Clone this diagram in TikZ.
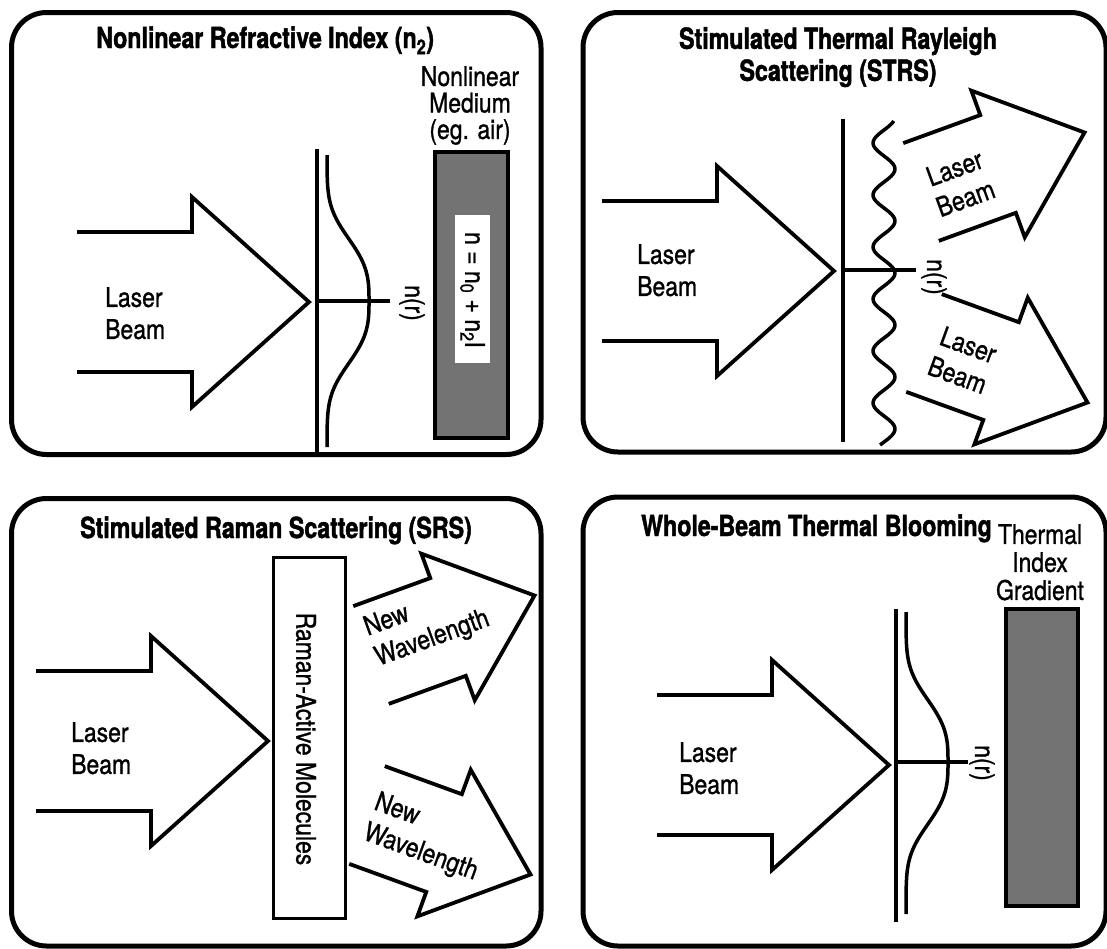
\documentclass[tikz,border=0pt]{standalone}
\usepackage{fontspec}
\setmainfont{texgyreheros-regular.otf}[FakeStretch=0.85, FakeBold=1.1]
\newfontfamily\headfont{texgyreheros-bold.otf}[FakeStretch=0.8, FakeBold=1.5]
\begin{document}
\begin{tikzpicture}[x=1pt, y=-1pt]
\tikzset{
  frame/.style={line width=5pt, rounded corners=35pt},
  beamline/.style={line width=3.8pt, line join=miter},
  axisline/.style={line width=3.5pt},
  profile/.style={line width=3.5pt, line join=round},
  medium/.style={line width=4.5pt, fill=black!55},
  ttl/.style={font=\fontsize{29}{32}\headfont, inner sep=0pt},
  lbl/.style={font=\fontsize{27}{32}\selectfont, inner sep=0pt},
  pics/inbeam/.style={code={
    \draw[beamline] (0,-70) -- (115,-70) -- (115,-105) -- (232,0) -- (115,105) -- (115,70) -- (0,70);}},
  pics/outbeam/.style={code={
    \draw[beamline] (0,-52) -- (82,-52) -- (82,-78) -- (174,0) -- (82,78) -- (82,52) -- (0,52);}},
}
\useasboundingbox (0,0) rectangle (1107,948);
\fill[white] (0,0) rectangle (1107,948);

% ---------- frames ----------
\draw[frame] (11.5,12.5) rectangle (541,454.5);
\draw[frame] (583,12.5) rectangle (1106,452);
\draw[frame] (11.5,498.5) rectangle (541,946);
\draw[frame] (583,497) rectangle (1106,946);

% ---------- Nonlinear refractive index ----------
\node[ttl, anchor=base west] (t1) at (96,48) {Nonlinear Refractive Index (n\textsubscript{2})};
\pic at (77,302) {inbeam};
\node[lbl, align=left, anchor=north west] (lb1) at (105,287) {Laser\\Beam};
\coordinate (v1t) at (317,149);
\coordinate (v1b) at (317,454);
\coordinate (h1a) at (317,301);
\coordinate (h1b) at (390,301);
\draw[axisline] (v1t) -- (v1b);
\draw[axisline] (h1a) -- (h1b);
\draw[profile] plot[smooth, domain=-146:146, samples=60]
  ({327+42*exp(-(abs(\x)/71.6)^3)}, {301+\x});
\node[lbl, rotate=-90] (nr1) at (412,303) {n(r)};
\node[lbl, align=center, anchor=north, font=\fontsize{27}{26.5}\selectfont] (m1) at (470,66) {Nonlinear\\Medium\\(eg. air)};
\draw[medium] (435,152) rectangle (508,438);
\fill[white] (455,215) rectangle (490,363);
\node[lbl, rotate=-90] (eq1) at (472.5,290) {n = n\textsubscript{0} + n\textsubscript{2}I};

% ---------- Stimulated thermal Rayleigh scattering ----------
\node[ttl, align=center, anchor=north] (t2) at (838,27) {Stimulated Thermal Rayleigh\\Scattering (STRS)};
\pic at (602,271) {inbeam};
\node[lbl, align=left, anchor=north west] (lb2) at (637,244) {Laser\\Beam};
\coordinate (v2t) at (843,119);
\coordinate (v2b) at (843,442);
\coordinate (h2a) at (843,270);
\coordinate (h2b) at (916,270);
\draw[axisline] (v2t) -- (v2b);
\draw[axisline] (h2a) -- (h2b);
\draw[profile] plot[smooth, domain=121:445, samples=130]
  ({884+11*cos(6.923077*(\x-169))}, \x);
\node[lbl, rotate=-90] (nr2) at (934,277) {n(r)};
\pic[rotate=20] at (921,192) {outbeam};
\pic[rotate=-20] at (924,343) {outbeam};
\node[lbl, align=center, rotate=20] (lb2a) at (960,183) {Laser\\Beam};
\node[lbl, align=center, rotate=-20] (lb2b) at (963,360) {Laser\\Beam};

% ---------- Stimulated Raman scattering ----------
\node[ttl, anchor=base west] (t3) at (80,538) {Stimulated Raman Scattering (SRS)};
\pic at (36,741) {inbeam};
\node[lbl, align=left, anchor=north west] (lb3) at (71,722) {Laser\\Beam};
\draw[line width=3pt, fill=white] (273.5,557.5) rectangle (345.5,918.5);
\node[lbl, rotate=-90] (ram) at (306,739) {Raman-Active Molecules};
\pic[rotate=20] at (371,655) {outbeam};
\pic[rotate=-20] at (367,815) {outbeam};
\node[lbl, align=left, rotate=20] (nw3a) at (427,624) {New\\Wavelength};
\node[lbl, align=left, rotate=-20] (nw3b) at (426,838) {New\\Wavelength};

% ---------- Whole-beam thermal blooming ----------
\node[ttl, anchor=base west] (t4) at (641,536) {Whole-Beam Thermal Blooming};
\node[lbl, align=center, anchor=north, font=\fontsize{27}{28}\selectfont] (g4) at (1040,524) {Thermal\\Index\\Gradient};
\pic at (657,765) {inbeam};
\node[lbl, align=left, anchor=north west] (lb4) at (679,742) {Laser\\Beam};
\coordinate (v4t) at (896,609);
\coordinate (v4b) at (896,922);
\coordinate (h4a) at (896,762);
\coordinate (h4b) at (968,762);
\draw[axisline] (v4t) -- (v4b);
\draw[axisline] (h4a) -- (h4b);
\draw[profile] plot[smooth, domain=-150:152, samples=60]
  ({906+42*exp(-(abs(\x)/71.6)^3)}, {762+\x});
\node[lbl, rotate=-90] (nr4) at (982,763) {n(r)};
\draw[medium] (1006,609) rectangle (1078,906);
\end{tikzpicture}
\end{document}
